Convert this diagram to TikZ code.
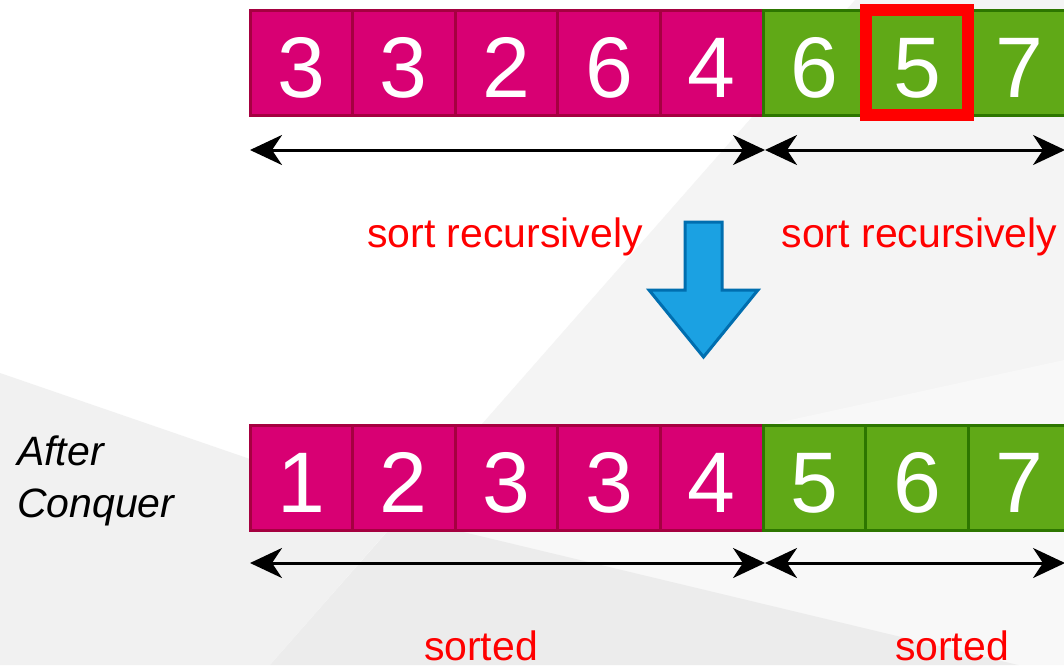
\documentclass[tikz,border=0pt]{standalone}
\usepackage{fontspec}
\setmainfont{Liberation Sans}
\usetikzlibrary{arrows.meta}
\definecolor{magF}{HTML}{D80073}
\definecolor{magB}{HTML}{A50040}
\definecolor{grnF}{HTML}{60A917}
\definecolor{grnB}{HTML}{2D7600}
\definecolor{bluF}{HTML}{1BA1E2}
\definecolor{bluB}{HTML}{006EAF}
\definecolor{bgA}{HTML}{F4F4F4}
\definecolor{bgB}{HTML}{F8F8F8}
\definecolor{bgC}{HTML}{F1F1F1}
\definecolor{bgD}{HTML}{ECECEC}
\tikzset{
  cell/.style={line width=3pt, minimum width=102.6pt, minimum height=105pt,
    inner sep=0pt, outer sep=0pt, text=white,
    font=\fontsize{86}{86}\selectfont, text height=69pt, text depth=0pt},
  mcell/.style={cell, draw=magB, fill=magF},
  gcell/.style={cell, draw=grnB, fill=grnF},
  span/.style={line width=3pt, black, {Stealth[length=32pt,width=30pt,inset=10pt]}-{Stealth[length=32pt,width=30pt,inset=10pt]}},
  lbl/.style={text=red, font=\fontsize{41}{49}\selectfont, inner sep=0pt, anchor=base},
  downarrow/.style={fill=bluF, draw=bluB, line width=3pt, line join=miter}
}
\begin{document}
\begin{tikzpicture}[x=1pt,y=-1pt]
\useasboundingbox (0,0) rectangle (1064,665);
\clip (0,0) rectangle (1064,665);
% background
\fill[white] (0,0) rectangle (1064,665);
\begin{scope}
  \clip (855,0) -- (1064,0) -- (1064,665) -- (270,665) -- cycle;
  \fill[bgA] (0,0) rectangle (1064,665);
  \fill[bgB] (0,593) -- (1064,360) -- (1064,700) -- (0,700) -- cycle;
  \fill[bgD] (0,421) -- (1064,676) -- (1064,700) -- (0,700) -- cycle;
\end{scope}
\fill[bgC] (0,373) -- (404,512) -- (270,665) -- (0,665) -- cycle;

% top row
\node[mcell] (t1) at (301.3,62.5) {3};
\node[mcell] (t2) at (403.9,62.5) {3};
\node[mcell] (t3) at (506.5,62.5) {2};
\node[mcell] (t4) at (609.1,62.5) {6};
\node[mcell] (t5) at (711.7,62.5) {4};
\node[gcell] (t6) at (814.3,62.5) {6};
\node[gcell] (t7) at (916.9,62.5) {5};
\node[gcell] (t8) at (1019.5,62.5) {7};
\draw[red, line width=12pt] (t7.north west) rectangle (t7.south east);

% top spans
\coordinate (ta) at (250,150);
\coordinate (tb) at (765,150);
\coordinate (tc) at (1065,150);
\draw[span] (ta) -- (tb);
\draw[span] (tb) -- (tc);

\node[lbl] (sr1) at (505,247) {sort recursively};
\node[lbl] (sr2) at (919.5,247) {sort recursively};

% blue down arrow
\draw[downarrow] (685,222) -- (722,222) -- (722,290) -- (758,290) -- (703.5,357) -- (649,290) -- (685,290) -- cycle;

% bottom row
\node[mcell] (b1) at (301.3,477.5) {1};
\node[mcell] (b2) at (403.9,477.5) {2};
\node[mcell] (b3) at (506.5,477.5) {3};
\node[mcell] (b4) at (609.1,477.5) {3};
\node[mcell] (b5) at (711.7,477.5) {4};
\node[gcell] (b6) at (814.3,477.5) {5};
\node[gcell] (b7) at (916.9,477.5) {6};
\node[gcell] (b8) at (1019.5,477.5) {7};

\coordinate (ba) at (250,563);
\coordinate (bb) at (765,563);
\coordinate (bc) at (1065,563);
\draw[span] (ba) -- (bb);
\draw[span] (bb) -- (bc);

\node[lbl] (so1) at (481,660) {sorted};
\node[lbl] (so2) at (952,660) {sorted};

\node[anchor=base west, align=left, inner sep=0pt, font=\fontsize{41}{52}\selectfont\itshape] (ac) at (17,517) {After\\Conquer};
\end{tikzpicture}
\end{document}
